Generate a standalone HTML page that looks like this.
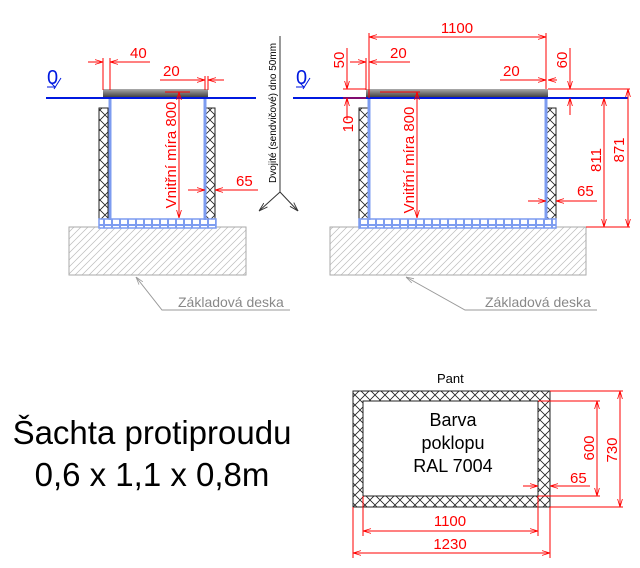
<!DOCTYPE html>
<html><head><meta charset="utf-8"><style>body{margin:0;background:#fff}svg{display:block}text{font-family:"Liberation Sans",sans-serif}</style></head><body>
<svg width="640" height="568" viewBox="0 0 640 568" xmlns="http://www.w3.org/2000/svg">
<defs>
<pattern id="x" width="10" height="10" patternUnits="userSpaceOnUse"><path d="M0 0L10 10M10 0L0 10" stroke="#222" stroke-width="0.8"/></pattern>
<pattern id="d" width="7" height="7" patternUnits="userSpaceOnUse"><path d="M0 7L7 0M-2 2L2 -2M5 9L9 5" stroke="#bbb" stroke-width="0.7"/></pattern>
<pattern id="c" width="8" height="9" patternUnits="userSpaceOnUse"><rect x="0.5" y="0.5" width="7" height="8" fill="#fff" stroke="#7d9cf0" stroke-width="1"/></pattern>
<linearGradient id="g" x1="0" y1="0" x2="0" y2="1"><stop offset="0" stop-color="#aaa"/><stop offset="1" stop-color="#444"/></linearGradient>
<marker id="a" viewBox="0 0 10 10" refX="10" refY="5" markerWidth="8" markerHeight="8" orient="auto-start-reverse"><path d="M0 2L10 5L0 8" fill="none" stroke="red" stroke-width="1"/></marker>
<marker id="k" viewBox="0 0 10 10" refX="10" refY="5" markerWidth="9" markerHeight="9" orient="auto"><path d="M0 2L10 5L0 8" fill="none" stroke="#333" stroke-width="1"/></marker>
<marker id="ga" viewBox="0 0 10 10" refX="0" refY="5" markerWidth="8" markerHeight="8" orient="auto"><path d="M10 2L0 5L10 8" fill="none" stroke="#999" stroke-width="1"/></marker>
</defs>

<!-- LEFT -->
<rect x="69" y="227" width="177" height="48" fill="url(#d)" stroke="#aaa"/>
<path d="M136 277L162 310H290" fill="none" stroke="#999" marker-start="url(#ga)"/>
<text x="178" y="307" font-size="14" fill="#888">Základová deska</text>
<rect x="99" y="108" width="9" height="112" fill="url(#x)" stroke="#222"/>
<rect x="206" y="108" width="9" height="112" fill="url(#x)" stroke="#222"/>
<rect x="99" y="219" width="117" height="9" fill="url(#c)" stroke="#7d9cf0" stroke-width="1.5"/>
<line x1="110" y1="98" x2="110" y2="220" stroke="#7d9cf0" stroke-width="3"/>
<line x1="205" y1="98" x2="205" y2="220" stroke="#7d9cf0" stroke-width="3"/>
<line x1="46" y1="98" x2="256" y2="98" stroke="#0019e0" stroke-width="2"/>
<rect x="103" y="89" width="105" height="8" fill="url(#g)"/>
<text x="47" y="84" font-size="20" fill="#0019e0">0</text>
<path d="M47 87h8l-4 -4" fill="none" stroke="#0019e0"/><path d="M61 78l-7 11" stroke="#0019e0"/>
<g stroke="red" fill="none" stroke-width="1">
<line x1="88" y1="62" x2="103" y2="62" marker-end="url(#a)"/><line x1="150" y1="62" x2="110" y2="62" marker-end="url(#a)"/>
<line x1="103" y1="58" x2="103" y2="90"/><line x1="110" y1="58" x2="110" y2="90"/>
<line x1="160" y1="80" x2="205" y2="80" marker-end="url(#a)"/><line x1="224" y1="80" x2="208" y2="80" marker-end="url(#a)"/>
<line x1="205" y1="76" x2="205" y2="90"/><line x1="208" y1="76" x2="208" y2="90"/>
<line x1="165" y1="92" x2="190" y2="92"/>
<line x1="179" y1="92" x2="179" y2="218" marker-start="url(#a)" marker-end="url(#a)"/>
<line x1="188" y1="190" x2="205" y2="190" marker-end="url(#a)"/><line x1="258" y1="190" x2="215" y2="190" marker-end="url(#a)"/>
</g>
<g fill="red" font-size="15">
<text x="130" y="58">40</text><text x="163" y="76">20</text><text x="236" y="186">65</text>
<text transform="translate(176,155) rotate(-90)" text-anchor="middle">Vnitřní míra 800</text>
</g>
<line x1="280" y1="36" x2="280" y2="192" stroke="#333"/>
<line x1="280" y1="192" x2="259" y2="211" stroke="#333" marker-end="url(#k)"/>
<line x1="280" y1="192" x2="298" y2="211" stroke="#333" marker-end="url(#k)"/>
<text transform="translate(276,113) rotate(-90)" text-anchor="middle" font-size="10">Dvojité (sendvičové) dno 50mm</text>

<!-- RIGHT -->
<rect x="330" y="227" width="256" height="48" fill="url(#d)" stroke="#aaa"/>
<path d="M406 277L465 310H597" fill="none" stroke="#999" marker-start="url(#ga)"/>
<text x="485" y="307" font-size="14" fill="#888">Základová deska</text>
<rect x="359" y="108" width="9" height="112" fill="url(#x)" stroke="#222"/>
<rect x="547" y="108" width="9" height="112" fill="url(#x)" stroke="#222"/>
<rect x="359" y="219" width="197" height="9" fill="url(#c)" stroke="#7d9cf0" stroke-width="1.5"/>
<line x1="369" y1="98" x2="369" y2="220" stroke="#7d9cf0" stroke-width="3"/>
<line x1="546" y1="98" x2="546" y2="220" stroke="#7d9cf0" stroke-width="3"/>
<line x1="293" y1="98" x2="628" y2="98" stroke="#0019e0" stroke-width="2"/>
<rect x="366" y="89" width="182" height="8" fill="url(#g)"/>
<text x="296" y="84" font-size="20" fill="#0019e0">0</text>
<path d="M296 87h8l-4 -4" fill="none" stroke="#0019e0"/><path d="M310 78l-7 11" stroke="#0019e0"/>
<g stroke="red" fill="none" stroke-width="1">
<line x1="369" y1="37" x2="546" y2="37" marker-start="url(#a)" marker-end="url(#a)"/>
<line x1="369" y1="33" x2="369" y2="98"/><line x1="546" y1="33" x2="546" y2="89"/>
<line x1="350" y1="62" x2="366" y2="62" marker-end="url(#a)"/><line x1="410" y1="62" x2="369" y2="62" marker-end="url(#a)"/>
<line x1="366" y1="58" x2="366" y2="90"/>
<line x1="347" y1="48" x2="347" y2="89" marker-end="url(#a)"/><line x1="347" y1="98" x2="347" y2="120"/>
<line x1="343" y1="89" x2="366" y2="89"/><line x1="343" y1="98" x2="366" y2="98"/>
<line x1="347" y1="115" x2="347" y2="98" marker-end="url(#a)"/>
<line x1="500" y1="80" x2="546" y2="80" marker-end="url(#a)"/><line x1="557" y1="80" x2="548" y2="80" marker-end="url(#a)"/>
<line x1="570" y1="48" x2="570" y2="89" marker-end="url(#a)"/><line x1="570" y1="115" x2="570" y2="98" marker-end="url(#a)"/>
<line x1="548" y1="89" x2="630" y2="89"/><line x1="586" y1="227" x2="630" y2="227"/>
<line x1="604" y1="98" x2="604" y2="227" marker-start="url(#a)" marker-end="url(#a)"/>
<line x1="628" y1="89" x2="628" y2="227" marker-start="url(#a)" marker-end="url(#a)"/>
<line x1="380" y1="92" x2="420" y2="92"/>
<line x1="417" y1="92" x2="417" y2="218" marker-start="url(#a)" marker-end="url(#a)"/>
<line x1="528" y1="201" x2="546" y2="201" marker-end="url(#a)"/><line x1="597" y1="201" x2="556" y2="201" marker-end="url(#a)"/>
</g>
<g fill="red" font-size="15">
<text x="457" y="33" text-anchor="middle">1100</text><text x="390" y="58">20</text><text x="503" y="76">20</text><text x="577" y="196">65</text>
<text transform="translate(344,60) rotate(-90)" text-anchor="middle">50</text>
<text transform="translate(567,60) rotate(-90)" text-anchor="middle">60</text>
<text transform="translate(353,124) rotate(-90)" text-anchor="middle">10</text>
<text transform="translate(601,160) rotate(-90)" text-anchor="middle">811</text>
<text transform="translate(624,150) rotate(-90)" text-anchor="middle">871</text>
<text transform="translate(414,160) rotate(-90)" text-anchor="middle">Vnitřní míra 800</text>
</g>

<!-- TITLE -->
<text x="152" y="444" font-size="33" text-anchor="middle">Šachta protiproudu</text>
<text x="152" y="486" font-size="33" text-anchor="middle">0,6 x 1,1 x 0,8m</text>

<!-- PLAN -->
<text x="437" y="383" font-size="13">Pant</text>
<path d="M353 391H550V507H353Z M363 401V496H538V401Z" fill="url(#x)" fill-rule="evenodd" stroke="#222"/>
<g font-size="18" text-anchor="middle"><text x="453" y="426">Barva</text><text x="453" y="449">poklopu</text><text x="453" y="472">RAL 7004</text></g>
<g stroke="red" fill="none" stroke-width="1">
<line x1="550" y1="391" x2="623" y2="391"/><line x1="538" y1="401" x2="600" y2="401"/>
<line x1="538" y1="496" x2="600" y2="496"/><line x1="550" y1="507" x2="623" y2="507"/>
<line x1="597" y1="401" x2="597" y2="496" marker-start="url(#a)" marker-end="url(#a)"/>
<line x1="620" y1="391" x2="620" y2="507" marker-start="url(#a)" marker-end="url(#a)"/>
<line x1="523" y1="486" x2="538" y2="486" marker-end="url(#a)"/><line x1="590" y1="486" x2="550" y2="486" marker-end="url(#a)"/>
<line x1="353" y1="507" x2="353" y2="558"/><line x1="550" y1="507" x2="550" y2="558"/>
<line x1="363" y1="496" x2="363" y2="536"/><line x1="538" y1="496" x2="538" y2="536"/>
<line x1="363" y1="531" x2="538" y2="531" marker-start="url(#a)" marker-end="url(#a)"/>
<line x1="353" y1="553" x2="550" y2="553" marker-start="url(#a)" marker-end="url(#a)"/>
</g>
<g fill="red" font-size="15">
<text x="450" y="526" text-anchor="middle">1100</text><text x="450" y="549" text-anchor="middle">1230</text>
<text x="570" y="483">65</text>
<text transform="translate(594,448) rotate(-90)" text-anchor="middle">600</text>
<text transform="translate(617,450) rotate(-90)" text-anchor="middle">730</text>
</g>
</svg>
</body></html>
